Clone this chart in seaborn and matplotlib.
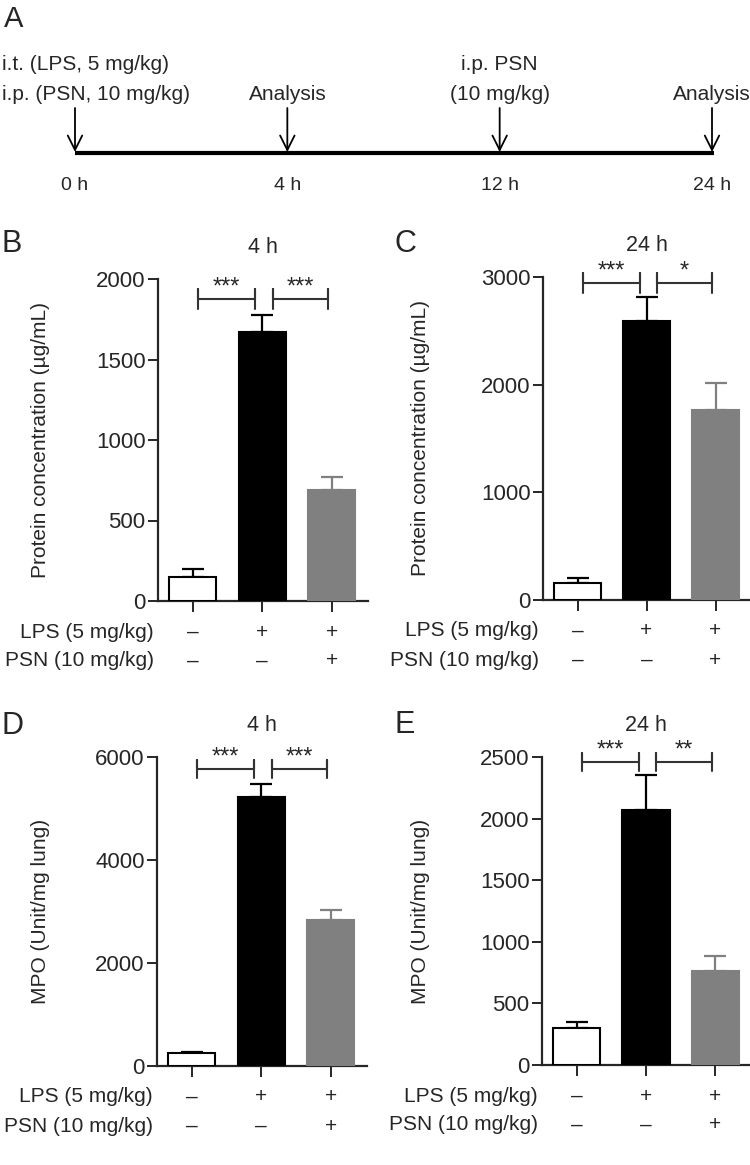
import numpy as np
import pandas as pd
import matplotlib
matplotlib.use('Agg')
import matplotlib.pyplot as plt
import matplotlib.transforms as mtransforms
import seaborn as sns

# --- data ---
groups = ['Control', 'LPS', 'LPS + PSN']
bar_colors = ['white', 'black', '#808080']
lps_row = ['–', '+', '+']
psn_row = ['–', '–', '+']

protein_4h_mean = [149, 1671, 689]
protein_4h_sem = [50, 105, 81]
protein_24h_mean = [158, 2591, 1765]
protein_24h_sem = [46, 223, 250]
mpo_4h_mean = [252, 5223, 2835]
mpo_4h_sem = [20, 253, 194]
mpo_24h_mean = [300, 2070, 763]
mpo_24h_sem = [49, 284, 122]

stars_b = ['***', '***']
stars_c = ['***', '*']
stars_d = ['***', '***']
stars_e = ['***', '**']

timeline_labels = ['0 h', '4 h', '12 h', '24 h']
timeline_top = ['i.t. (LPS, 5 mg/kg)', '', 'i.p. PSN', '']
timeline_bottom = ['i.p. (PSN, 10 mg/kg)', 'Analysis', '(10 mg/kg)', 'Analysis']

sns.set_theme(style='ticks')
plt.rcParams['font.family'] = ['Liberation Sans', 'DejaVu Sans']

W, H = 750, 1165
fig = plt.figure(figsize=(W / 100, H / 100), dpi=100)


def fx(px):
    return px / W


def fy(py):
    return 1 - py / H


def add_ax(left, top, right, bottom):
    return fig.add_axes([fx(left), fy(bottom), (right - left) / W, (bottom - top) / H])


# --- panel A: timeline ---
axa = fig.add_axes([0, fy(200), 1, 200 / H])
axa.set_axis_off()
unit = (712 - 75) / 3
axa.set_xlim(-75 / unit, (W - 75) / unit)
axa.set_ylim(200, 0)
pos = np.arange(len(timeline_labels))
axa.plot([pos[0], pos[-1] + 0.01], [153, 153], color='black', lw=3, solid_capstyle='butt')
for i, p in enumerate(pos):
    axa.annotate('', xy=(p, 152), xytext=(p, 108),
                 arrowprops=dict(arrowstyle='->', lw=1.3, color='black',
                                 mutation_scale=26, shrinkA=0, shrinkB=0))
    axa.text(p, 185, timeline_labels[i], ha='center', va='center', fontsize=14)
    if i == 0:
        axa.text(-73 / unit, 65, timeline_top[i], ha='left', va='center', fontsize=15)
        axa.text(-73 / unit, 95, timeline_bottom[i], ha='left', va='center', fontsize=15)
    else:
        if timeline_top[i]:
            axa.text(p, 65, timeline_top[i], ha='center', va='center', fontsize=15)
        axa.text(p, 95, timeline_bottom[i], ha='center', va='center', fontsize=15)
fig.text(fx(4), fy(19), 'A', fontsize=21, va='center', ha='left')


def bar_panel(ax, means, sems, stars, bracket_y, yticks, ylabel, title, label_px, xmax):
    df = pd.DataFrame({'group': groups, 'value': means})
    sns.barplot(data=df, x='group', y='value', hue='group', palette=bar_colors,
                legend=False, width=0.68, ax=ax, errorbar=None, linewidth=1.5)
    for patch, c in zip(ax.patches, bar_colors):
        patch.set_edgecolor('black' if c == 'white' else c)
        patch.set_zorder(3)
    for i, (m, s) in enumerate(zip(means, sems)):
        ec = 'black' if bar_colors[i] == 'white' else bar_colors[i]
        ax.errorbar(i, m, yerr=[[0], [s]], fmt='none', ecolor=ec, elinewidth=1.6,
                    capsize=8, capthick=1.6, zorder=2)
    ymax = yticks[-1]
    ax.set_ylim(0, ymax)
    ax.set_xlim(-0.5, xmax)
    ax.set_yticks(yticks)
    ax.set_xticks(range(len(groups)))
    ax.set_xticklabels([])
    ax.set_xlabel('')
    ax.set_ylabel(ylabel, fontsize=15)
    trans = mtransforms.blended_transform_factory(fig.transFigure, ax.transAxes)
    ax.yaxis.set_label_coords(fx(label_px), 0.5, transform=trans)
    ax.set_title(title, fontsize=15.5, pad=19)
    ax.tick_params(axis='y', labelsize=16, length=7, width=1.4, pad=2)
    ax.tick_params(axis='x', length=8, width=1.4)
    sns.despine(ax=ax)
    for sp in ['left', 'bottom']:
        ax.spines[sp].set_linewidth(1.6)

    # significance brackets
    tick = 0.03 * ymax
    spans = [(0.08, 0.9), (1.15, 1.95)]
    for (x0, x1), st in zip(spans, stars):
        ax.plot([x0, x0, x0, x1, x1, x1],
                [bracket_y - tick, bracket_y + tick, bracket_y, bracket_y,
                 bracket_y + tick, bracket_y - tick],
                color='#333333', lw=1.5, clip_on=False)
        ax.annotate(st, xy=((x0 + x1) / 2, bracket_y), xytext=(0, 4),
                    textcoords='offset points', ha='center', va='baseline',
                    fontsize=17, annotation_clip=False)

    # treatment rows under the axis
    tr = mtransforms.blended_transform_factory(ax.transData, ax.transAxes)
    hpx = ax.get_position().height * H
    for row_i, (name, row) in enumerate([('LPS (5 mg/kg)', lps_row), ('PSN (10 mg/kg)', psn_row)]):
        yy = -(31 + 29 * row_i) / hpx
        ax.text(-0.02, yy, name, transform=ax.transAxes, ha='right', va='center', fontsize=15)
        for i, s in enumerate(row):
            ax.text(i, yy, s, transform=tr, ha='center', va='center', fontsize=15)


axb = add_ax(158, 279, 368, 601)
bar_panel(axb, protein_4h_mean, protein_4h_sem, stars_b, 1876, [0, 500, 1000, 1500, 2000],
          'Protein concentration (µg/mL)', '4 h', 50, 2.52)
axc = add_ax(543, 277, 750, 600)
bar_panel(axc, protein_24h_mean, protein_24h_sem, stars_c, 2944, [0, 1000, 2000, 3000],
          'Protein concentration (µg/mL)', '24 h', 430, 2.5)
axd = add_ax(157, 757, 367, 1066)
bar_panel(axd, mpo_4h_mean, mpo_4h_sem, stars_d, 5767, [0, 2000, 4000, 6000],
          'MPO (Unit/mg lung)', '4 h', 50, 2.52)
axe = add_ax(542, 757, 750, 1065)
bar_panel(axe, mpo_24h_mean, mpo_24h_sem, stars_e, 2459, [0, 500, 1000, 1500, 2000, 2500],
          'MPO (Unit/mg lung)', '24 h', 430, 2.5)

fig.text(fx(1), fy(244), 'B', fontsize=22, va='center', ha='left')
fig.text(fx(395), fy(244), 'C', fontsize=22, va='center', ha='left')
fig.text(fx(1), fy(726), 'D', fontsize=22, va='center', ha='left')
fig.text(fx(395), fy(725), 'E', fontsize=22, va='center', ha='left')

fig.savefig('out.png', dpi=100)
